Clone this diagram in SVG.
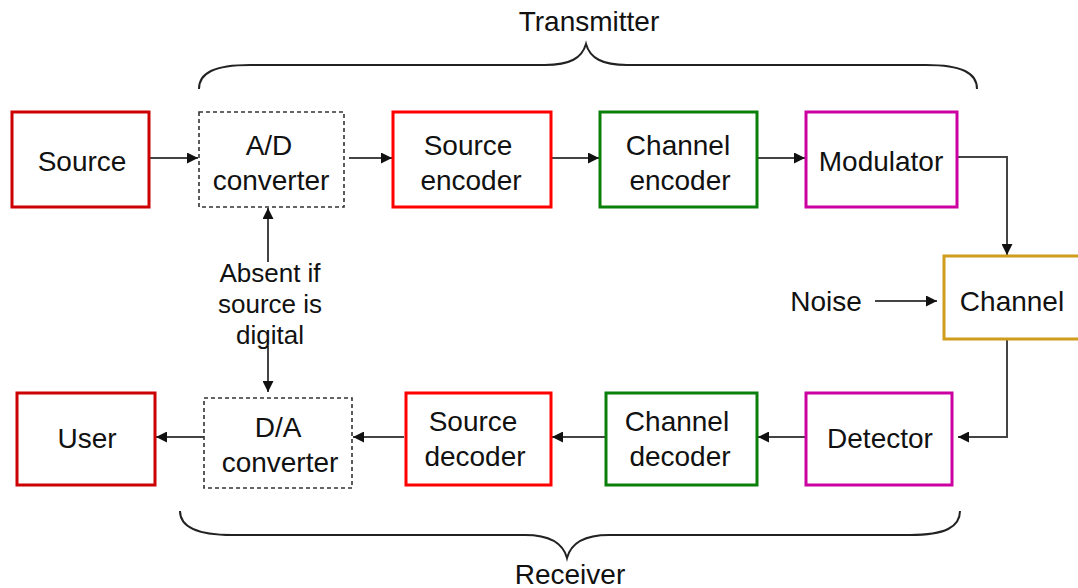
<svg xmlns="http://www.w3.org/2000/svg" width="1078" height="588" viewBox="0 0 1078 588">
<defs>
<style>
.box{fill:#fff;stroke-width:3}
.dash{fill:#fff;stroke:#333;stroke-width:1.6;stroke-dasharray:4 3}
.red1{stroke:#cc0000}
.red2{stroke:#ff0000}
.grn{stroke:#0a7f0a}
.mag{stroke:#cc00a0}
.gold{stroke:#d09c1c}
text{font-family:"Liberation Sans",Arial,sans-serif;font-size:28px;fill:#111;text-anchor:middle}
.lbl{font-size:26px}
.conn{fill:none;stroke:#444;stroke-width:2;marker-end:url(#ah)}
.brace{fill:none;stroke:#222;stroke-width:2}
</style>
<marker id="ah" viewBox="0 0 10 10" refX="10" refY="5" markerWidth="5.5" markerHeight="5.5" orient="auto" markerUnits="strokeWidth">
<path d="M0,0 L10,5 L0,10 z" fill="#111"/>
</marker>
</defs>
<rect width="1078" height="588" fill="#fff"/>

<g id="transmitter-brace">
<path class="brace" d="M199,89 C199,73 214,65 250,65 H545 C570,65 582,58 586,44 C590,58 602,65 627,65 H926 C962,65 977,73 977,89"/>
<text x="589" y="31">Transmitter</text>
</g>
<g id="receiver-brace">
<path class="brace" d="M180,511 C180,527 196,535 232,535 H525 C550,535 563,543 567,558 C571,543 584,535 609,535 H910 C945,535 960,527 960,511"/>
<text x="570" y="584">Receiver</text>
</g>

<g id="connectors">
<path class="conn" d="M149,158 H198"/>
<path class="conn" d="M349,158 H392"/>
<path class="conn" d="M551,158 H599"/>
<path class="conn" d="M757,158 H805"/>
<path class="conn" d="M957,157 H1007 V255"/>
<path class="conn" d="M875,301 H937"/>
<path class="conn" d="M1007,339 V437 H958"/>
<path class="conn" d="M806,437 H758"/>
<path class="conn" d="M606,437 H552"/>
<path class="conn" d="M404,437 H353"/>
<path class="conn" d="M204,437 H156"/>
<path class="conn" d="M268,262 V208"/>
<path class="conn" d="M268,346 V392"/>
<text class="lbl" x="270" y="282">Absent if</text>
<text class="lbl" x="270" y="313">source is</text>
<text class="lbl" x="270" y="344">digital</text>
</g>

<g id="source"><rect class="box red1" x="12" y="112" width="137" height="95"/><text x="82" y="171">Source</text></g>
<g id="ad-converter"><rect class="dash" x="199" y="112" width="145" height="95"/><text x="269" y="155">A/D</text><text x="271" y="190">converter</text></g>
<g id="source-encoder"><rect class="box red2" x="393" y="112" width="158" height="95"/><text x="468" y="155">Source</text><text x="471" y="190">encoder</text></g>
<g id="channel-encoder"><rect class="box grn" x="600" y="112" width="157" height="95"/><text x="678" y="155">Channel</text><text x="680" y="190">encoder</text></g>
<g id="modulator"><rect class="box mag" x="806" y="112" width="151" height="95"/><text x="881" y="171">Modulator</text></g>
<g id="channel"><rect class="box gold" x="944" y="256" width="140" height="83"/><text x="1012" y="311">Channel</text></g>
<g id="noise"><text x="826" y="311">Noise</text></g>
<g id="detector"><rect class="box mag" x="806" y="393" width="146" height="92"/><text x="880" y="448">Detector</text></g>
<g id="channel-decoder"><rect class="box grn" x="606" y="393" width="151" height="92"/><text x="677" y="431">Channel</text><text x="680" y="466">decoder</text></g>
<g id="source-decoder"><rect class="box red2" x="406" y="393" width="145" height="92"/><text x="473" y="431">Source</text><text x="475" y="466">decoder</text></g>
<g id="da-converter"><rect class="dash" x="204" y="398" width="148" height="90"/><text x="278" y="437">D/A</text><text x="280" y="472">converter</text></g>
<g id="user"><rect class="box red1" x="17" y="393" width="138" height="92"/><text x="87" y="448">User</text></g>
</svg>
